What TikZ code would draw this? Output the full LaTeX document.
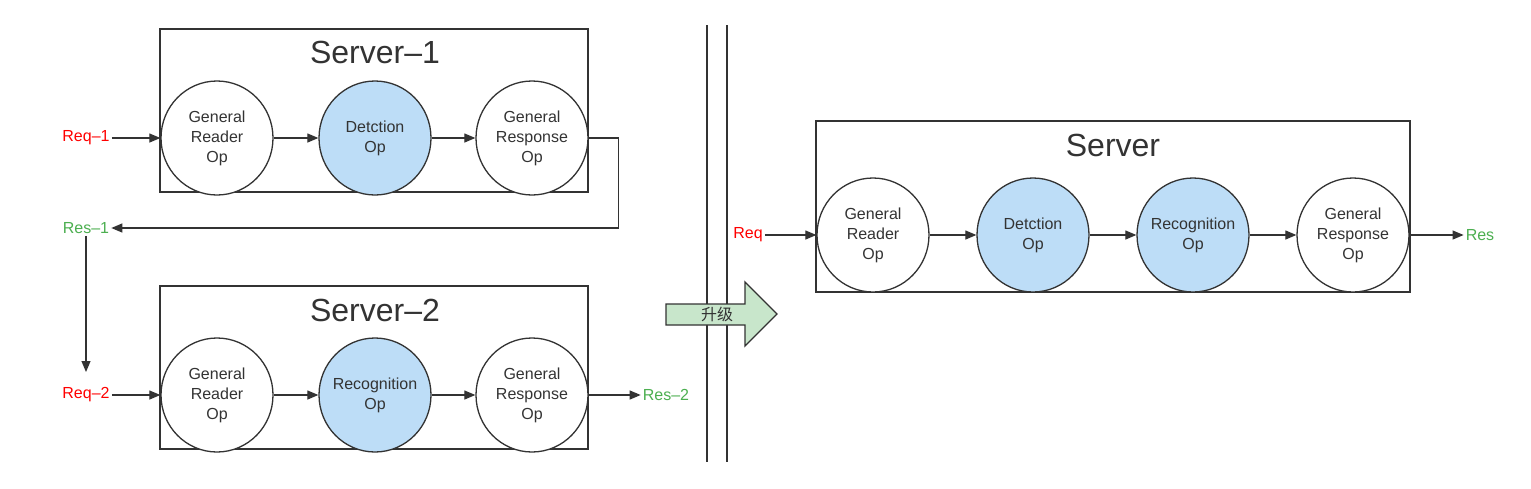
\documentclass[tikz,border=0pt]{standalone}
\usepackage{fontspec}
\setmainfont{Liberation Sans}
\newfontfamily\cjkfont{Noto Sans CJK SC}
\usetikzlibrary{shapes.geometric,arrows.meta,positioning}

\definecolor{ink}{HTML}{333333}
\definecolor{opblue}{HTML}{BDDDF7}
\definecolor{upgreen}{HTML}{C8E6CB}
\definecolor{reqred}{HTML}{FF0000}
\definecolor{resgreen}{HTML}{4CAF50}

\tikzset{
    op/.style = {ellipse, draw = ink, line width = 1.3pt, fill = white,
        minimum width = 112pt, minimum height = 114pt, inner xsep = -10pt, inner ysep = 0pt,
        align = center, text = ink, font = \fontsize{16}{20}\selectfont},
    hotop/.style = {op, fill = opblue},
    serverbox/.style = {draw = ink, line width = 1.3pt},
    servertitle/.style = {text = ink, font = \fontsize{32}{36}\selectfont},
    reqlabel/.style = {text = reqred, inner sep = 2pt, font = \fontsize{16}{18}\selectfont},
    reslabel/.style = {text = resgreen, inner sep = 2pt, font = \fontsize{16}{18}\selectfont},
    flow/.style = {draw = ink, line width = 1.2pt, -{Triangle[length = 11pt, width = 9pt]}}
}

\begin{document}
\begin{tikzpicture}[x = 1pt, y = -1pt]
    \useasboundingbox [fill = white] (0,0) rectangle (1531,488);

    % Server-1
    \draw [serverbox] (160,29) rectangle (588,192);
    \node [servertitle] (title1) at (375,52) {Server–1};
    \node [op] (reader1) at (217,138) {General\\Reader\\Op};
    \node [hotop] (det1) at (375,138) {Detction\\Op};
    \node [op] (resp1) at (532,138) {General\\Response\\Op};
    \node [reqlabel] (req1) at (86,138) {Req–1};
    \node [reslabel] (res1) at (86,228) {Res–1};

    \draw [flow] (req1) -- (reader1);
    \draw [flow] (reader1) -- (det1);
    \draw [flow] (det1) -- (resp1);
    \draw [flow] (resp1.east) -- ++(30,0) |- (res1);
    \draw [flow] (res1) -- ++(0,17) -- (86,372);

    % Server-2
    \draw [serverbox] (160,286) rectangle (588,449);
    \node [servertitle] (title2) at (375,310) {Server–2};
    \node [op] (reader2) at (217,395) {General\\Reader\\Op};
    \node [hotop] (rec2) at (375,395) {Recognition\\Op};
    \node [op] (resp2) at (532,395) {General\\Response\\Op};
    \node [reqlabel] (req2) at (86,395) {Req–2};
    \node [reslabel] (res2) at (666,395) {Res–2};

    \draw [flow] (req2) -- (reader2);
    \draw [flow] (reader2) -- (rec2);
    \draw [flow] (rec2) -- (resp2);
    \draw [flow] (resp2) -- (res2);

    % divider
    \draw [ink, line width = 1.3pt] (707,25) -- (707,462);
    \draw [ink, line width = 1.3pt] (727,25) -- (727,462);

    % upgrade arrow
    \draw [ink, line width = 1.3pt, fill = upgreen]
        (666,304) -- (745,304) -- (745,282) -- (777,314) -- (745,346) -- (745,325) -- (666,325) -- cycle;
    \node [text = ink, font = \cjkfont\fontsize{16}{18}\selectfont] (upgrade) at (717,314.5) {升级};

    % Server
    \draw [serverbox] (816,121) rectangle (1410,292);
    \node [servertitle] (title) at (1113,145) {Server};
    \node [op] (reader) at (873,235) {General\\Reader\\Op};
    \node [hotop] (det) at (1033,235) {Detction\\Op};
    \node [hotop] (rec) at (1193,235) {Recognition\\Op};
    \node [op] (resp) at (1353,235) {General\\Response\\Op};
    \node [reqlabel] (req) at (748,235) {Req};
    \node [reslabel] (res) at (1480,235) {Res};

    \draw [flow] (req) -- (reader);
    \draw [flow] (reader) -- (det);
    \draw [flow] (det) -- (rec);
    \draw [flow] (rec) -- (resp);
    \draw [flow] (resp) -- (res);
\end{tikzpicture}
\end{document}
